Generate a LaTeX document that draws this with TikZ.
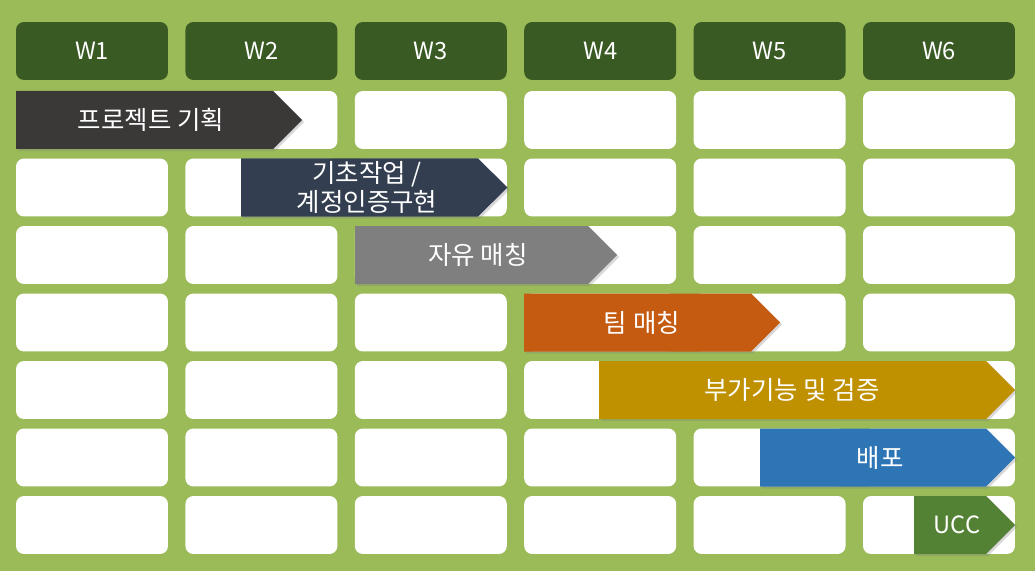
\documentclass[tikz,border=0pt]{standalone}
\usepackage{fontspec}
\setmainfont{Noto Sans CJK KR}
\usetikzlibrary{shadows}

\definecolor{bggreen}{HTML}{9BBB59}
\definecolor{hdrgreen}{HTML}{3A5A24}
\definecolor{barplan}{HTML}{3B3838}
\definecolor{barbase}{HTML}{333F50}
\definecolor{barfree}{HTML}{7F7F7F}
\definecolor{barteam}{HTML}{C55A11}
\definecolor{barextra}{HTML}{BF9000}
\definecolor{bardeploy}{HTML}{2E75B6}
\definecolor{barucc}{HTML}{548235}

\begin{document}
\begin{tikzpicture}[
		x=0.02cm, y=-0.02cm,
		font=\fontsize{14.5}{16}\selectfont,
		% Style for the week headers
		week/.style={fill=hdrgreen, rounded corners=0.16cm, text=white,
			font=\fontsize{13.5}{16}\selectfont,
			minimum width=3.04cm, minimum height=1.16cm, inner sep=0pt},
		% Style for the empty schedule cells
		cell/.style={fill=white, rounded corners=0.16cm,
			minimum width=3.04cm, minimum height=1.16cm, inner sep=0pt},
		% Style for the task arrows
		bar/.style={drop shadow={shadow xshift=1.2pt, shadow yshift=-1.2pt, opacity=0.3}},
		task label/.style={text=white, align=center, inner sep=0pt}
		]
		
		% --- 1. Background ---
		\fill[bggreen] (0,0) rectangle (1035,571);
		
		% --- 2. Week headers and empty cells ---
		\foreach \c in {1,...,6} {
			\node[week] (W\c) at ({92+169.4*(\c-1)}, 51) {W\c};
			\foreach \r in {1,...,7} {
				\node[cell] (cell-\r-\c) at ({92+169.4*(\c-1)}, {120+67.5*(\r-1)}) {};
			}
		}
		
		% --- 3. Task arrows ---
		\fill[bar, barplan] (16,91) -- (273,91) -- (302,120) -- (273,149) -- (16,149) -- cycle;
		\node[task label] (plan) at (151,120) {프로젝트 기획};
		
		\fill[bar, barbase] (241,158.5) -- (478,158.5) -- (507.5,187.5) -- (478,216.5) -- (241,216.5) -- cycle;
		\node[task label] (base) at (367,187.5) {기초작업 /\\계정인증구현};
		
		\fill[bar, barfree] (355,226) -- (588,226) -- (617,255) -- (588,284) -- (355,284) -- cycle;
		\node[task label] (free) at (478,255) {자유 매칭};
		
		\fill[bar, barteam] (524,293.5) -- (751,293.5) -- (780,322.5) -- (751,351.5) -- (524,351.5) -- cycle;
		\node[task label] (team) at (642,322.5) {팀 매칭};
		
		\fill[bar, barextra] (599,361) -- (986,361) -- (1015,390) -- (986,419) -- (599,419) -- cycle;
		\node[task label] (extra) at (792,390) {부가기능 및 검증};
		
		\fill[bar, bardeploy] (760,428.5) -- (986,428.5) -- (1015,457.5) -- (986,486.5) -- (760,486.5) -- cycle;
		\node[task label] (deploy) at (880,457.5) {배포};
		
		\fill[bar, barucc] (914,496) -- (986,496) -- (1015,525) -- (986,554) -- (914,554) -- cycle;
		\node[task label, font=\fontsize{13.5}{16}\selectfont] (ucc) at (957,525) {UCC};
		
		\useasboundingbox (0,0) rectangle (1035,571);
	\end{tikzpicture}
\end{document}
